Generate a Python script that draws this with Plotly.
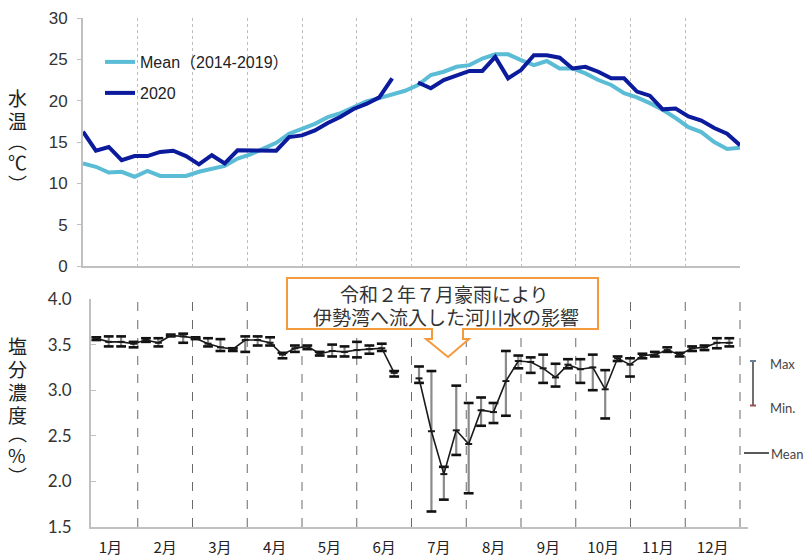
import plotly.graph_objects as go

W, H = 806, 556


def px(x):
    return x / W


def py(y):
    return 1 - y / H


# ---------------- data ----------------
months = ["1月", "2月", "3月", "4月", "5月", "6月", "7月", "8月", "9月", "10月", "11月", "12月"]

temp_week = list(range(52))
temp_mean = [12.4, 12.0, 11.3, 11.4, 10.8, 11.5, 10.9, 10.9, 10.9, 11.4, 11.8, 12.1, 13.0,
             13.5, 14.2, 14.9, 16.0, 16.6, 17.2, 18.0, 18.5, 19.2, 19.9, 20.3, 20.8, 21.2,
             21.9, 23.1, 23.5, 24.1, 24.3, 25.1, 25.6, 25.6, 24.9, 24.3, 24.8, 23.9, 23.9,
             23.3, 22.5, 21.9, 20.9, 20.4, 19.7, 18.9, 17.9, 16.8, 16.2, 15.0, 14.15, 14.3]
temp_2020 = [16.25, 13.95, 14.4, 12.8, 13.3, 13.3, 13.8, 13.95, 13.3, 12.3, 13.4, 12.4, 14.0,
             13.95, 14.0, 13.95, 15.6, 15.8, 16.4, 17.3, 18.05, 19.0, 19.6, 20.4, 22.7, None,
             22.2, 21.5, 22.5, 23.0, 23.6, 23.6, 25.3, 22.7, 23.7, 25.5, 25.5, 25.2, 23.9,
             24.1, 23.5, 22.7, 22.7, 21.1, 20.6, 18.95, 19.05, 18.1, 17.6, 16.7, 16.0, 14.6]

sal_week = list(range(52))
sal_mean = [3.57, 3.53, 3.53, 3.51, 3.55, 3.52, 3.60, 3.59, 3.57, 3.51, 3.47, 3.45, 3.55,
            3.55, 3.52, 3.39, 3.46, 3.48, 3.40, 3.43, 3.42, 3.44, 3.45, 3.46, 3.19, None,
            3.13, 2.55, 2.08, 2.56, 2.41, 2.78, 2.76, 3.10, 3.32, 3.31, 3.24, 3.14, 3.28,
            3.23, 3.25, 3.01, 3.35, 3.28, 3.38, 3.39, 3.44, 3.39, 3.46, 3.47, 3.52, 3.52]
sal_max = [3.58, 3.59, 3.59, 3.53, 3.57, 3.57, 3.61, 3.62, 3.58, 3.57, 3.56, 3.46, 3.59,
           3.59, 3.58, 3.41, 3.49, 3.49, 3.42, 3.50, 3.48, 3.53, 3.49, 3.51, 3.21, None,
           3.26, 3.21, 2.16, 3.05, 2.86, 2.92, 2.86, 3.43, 3.38, 3.36, 3.39, 3.29, 3.34,
           3.34, 3.39, 3.22, 3.37, 3.35, 3.40, 3.42, 3.47, 3.41, 3.48, 3.49, 3.57, 3.57]
sal_min = [3.55, 3.48, 3.48, 3.47, 3.53, 3.48, 3.59, 3.52, 3.56, 3.48, 3.43, 3.43, 3.42,
           3.49, 3.49, 3.35, 3.42, 3.45, 3.38, 3.37, 3.37, 3.36, 3.40, 3.43, 3.15, None,
           3.08, 1.67, 1.80, 2.29, 1.87, 2.61, 2.64, 2.72, 3.24, 3.19, 3.08, 3.04, 3.24,
           3.08, 3.00, 2.69, 3.32, 3.15, 3.35, 3.37, 3.42, 3.37, 3.43, 3.44, 3.46, 3.48]

# ---------------- x positions (month units) ----------------
tx = [w * 12 / 51 for w in temp_week]
sx = [0.243 + k * 0.2267 for k in sal_week]

C_MEAN = "#5BBCD6"
C_2020 = "#0B1B9C"

err_plus = [None if (m is None or a is None) else a - m for m, a in zip(sal_mean, sal_max)]
err_minus = [None if (m is None or b is None) else m - b for m, b in zip(sal_mean, sal_min)]

fig = go.Figure()

fig.add_trace(go.Scatter(x=tx, y=temp_mean, mode="lines", name="Mean（2014-2019）",
                         line=dict(color=C_MEAN, width=4), xaxis="x", yaxis="y",
                         legend="legend"))
fig.add_trace(go.Scatter(x=tx, y=temp_2020, mode="lines", name="2020",
                         line=dict(color=C_2020, width=4), xaxis="x", yaxis="y",
                         legend="legend2"))

# salinity error bars
fig.add_trace(go.Scatter(x=sx, y=sal_mean, mode="markers", marker=dict(size=1, opacity=0),
                         error_y=dict(type="data", symmetric=False, array=err_plus,
                                      arrayminus=err_minus, color="#8a8a8a", thickness=2.2,
                                      width=0),
                         xaxis="x2", yaxis="y2", showlegend=False, hoverinfo="skip"))
for arr in (sal_max, sal_min):
    fig.add_trace(go.Scatter(x=sx, y=arr, mode="markers",
                             marker=dict(symbol="line-ew", size=7,
                                         line=dict(color="#111111", width=2.6)),
                             xaxis="x2", yaxis="y2", showlegend=False, hoverinfo="skip"))
fig.add_trace(go.Scatter(x=sx, y=sal_mean, mode="lines+markers", name="Mean",
                         line=dict(color="#1a1a1a", width=1.6),
                         marker=dict(symbol="line-ew", size=5,
                                     line=dict(color="#1a1a1a", width=2)),
                         xaxis="x2", yaxis="y2", showlegend=False))

shapes = []
# bottom gridlines (dashed) at month boundaries
for m in range(1, 13):
    shapes.append(dict(type="line", xref="x2", yref="y2 domain", x0=m, x1=m, y0=0, y1=1,
                       line=dict(color="#6a6a6a", width=1, dash="dash"), layer="below"))


def path_from(points):
    s = "M " + " L ".join(f"{px(x):.5f},{py(y):.5f}" for x, y in points) + " Z"
    return s


callout = [(287, 278), (598, 278), (598, 329), (463, 329), (463, 339), (469, 339),
           (448, 357), (426, 339), (432, 339), (432, 329), (287, 329)]
shapes.append(dict(type="path", xref="paper", yref="paper", path=path_from(callout),
                   line=dict(color="#F39A3D", width=2), fillcolor="white", layer="above"))

# right legend for salinity
shapes.append(dict(type="line", xref="paper", yref="paper", x0=px(753), x1=px(753),
                   y0=py(361), y1=py(405), line=dict(color="#222", width=1.3)))
shapes.append(dict(type="line", xref="paper", yref="paper", x0=px(750), x1=px(756),
                   y0=py(361), y1=py(361), line=dict(color="#6b7f99", width=2)))
shapes.append(dict(type="line", xref="paper", yref="paper", x0=px(750), x1=px(756),
                   y0=py(405.5), y1=py(405.5), line=dict(color="#a05050", width=2)))
shapes.append(dict(type="line", xref="paper", yref="paper", x0=px(744), x1=px(769),
                   y0=py(453), y1=py(453), line=dict(color="#222", width=1.5)))

annotations = []
jp = "Noto Sans CJK JP"


def note(text, x, y, font, xanchor="center", **kw):
    annotations.append(dict(text=text, x=px(x), y=py(y), xref="paper", yref="paper",
                            xanchor=xanchor, yanchor="middle", showarrow=False,
                            font=font, **kw))


box_font = dict(family=jp, size=19, color="#333")
note("令和２年７月豪雨により", 444, 293, box_font)
note("伊勢湾へ流入した河川水の影響", 446, 316, box_font)

leg_font = dict(family="Lato", size=13, color="#444")
note("Max", 768, 364, leg_font, xanchor="left")
note("Min.", 768, 408, leg_font, xanchor="left")
note("Mean", 769, 454, leg_font, xanchor="left")

title_font = dict(family=jp, size=19, color="#222")
for ch, yy in (("水", 97), ("温", 121), ("︵", 140), ("℃", 162), ("︶", 184)):
    note(ch, 17, yy, title_font)
for ch, yy in (("塩", 345), ("分", 368), ("濃", 391), ("度", 414), ("︵", 432), ("%", 454),
               ("︶", 475)):
    note(ch, 17, yy, title_font)

axis_line = "#c0c0c0"
fig.update_layout(
    width=W, height=H, margin=dict(l=0, r=0, t=0, b=0, autoexpand=False),
    paper_bgcolor="white", plot_bgcolor="white",
    xaxis=dict(domain=[px(83), px(740)], range=[0, 12], tickvals=list(range(1, 13)),
               showticklabels=False, showgrid=True, gridcolor="#bdbdbd", griddash="dot",
               gridwidth=1, showline=True, linecolor=axis_line, linewidth=2,
               zeroline=False, ticks="", anchor="y", automargin=False),
    yaxis=dict(domain=[py(266), py(18)], range=[0, 30], tickvals=list(range(0, 31, 5)),
               showgrid=False, showline=True, linecolor=axis_line, linewidth=2,
               zeroline=False, ticks="outside", ticklen=4, tickcolor=axis_line,
               tickfont=dict(family="Liberation Sans", size=17, color="#333"),
               ticklabelstandoff=6, anchor="x", automargin=False),
    xaxis2=dict(domain=[px(91), px(748)], range=[0.146, 12.146],
                tickvals=[m - 0.5 for m in range(1, 13)], ticktext=months,
                showgrid=False, showline=True, linecolor=axis_line, linewidth=2,
                zeroline=False, ticks="", ticklabelstandoff=6,
                tickfont=dict(family=jp, size=15, color="#222"), anchor="y2",
                automargin=False),
    yaxis2=dict(domain=[py(527), py(299)], range=[1.5, 4.0], dtick=0.5, tick0=1.5,
                tickformat=".1f", showgrid=False, showline=True, linecolor=axis_line,
                linewidth=2, zeroline=False, ticks="inside", ticklen=5, tickcolor=axis_line,
                tickfont=dict(family="Lato", size=17, color="#333"),
                ticklabelstandoff=14, anchor="x2", automargin=False),
    legend=dict(x=px(100), y=py(62), xanchor="left", yanchor="middle",
                bgcolor="rgba(0,0,0,0)", itemwidth=30,
                font=dict(family="Liberation Sans, Noto Sans CJK JP", size=16, color="#222")),
    legend2=dict(x=px(100), y=py(93), xanchor="left", yanchor="middle",
                 bgcolor="rgba(0,0,0,0)", itemwidth=30,
                 font=dict(family="Liberation Sans, Noto Sans CJK JP", size=16, color="#222")),
    shapes=shapes, annotations=annotations,
)

fig.write_html("out.html", config={"displayModeBar": False},
               post_script="document.body.style.margin='0px';document.body.style.overflow='hidden';")
